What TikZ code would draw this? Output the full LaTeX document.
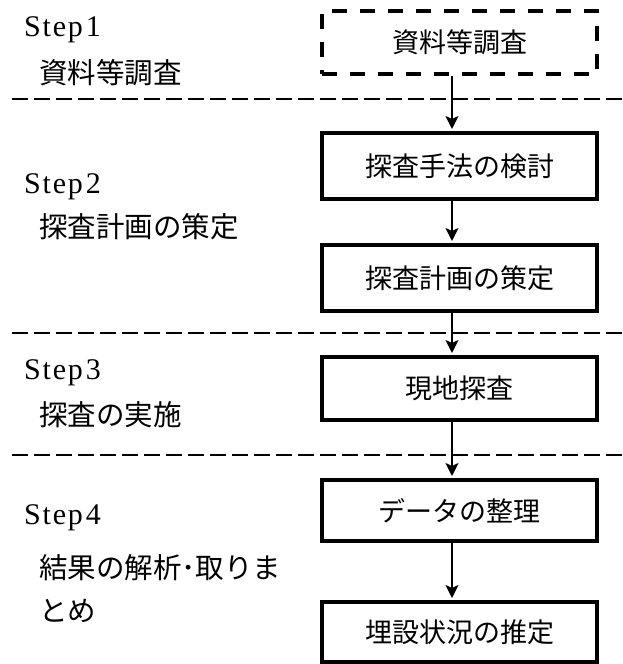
\documentclass[tikz,border=0pt]{standalone}
\usepackage{fontspec}
\usetikzlibrary{arrows.meta}
\newfontfamily\jpfont{Noto Sans CJK JP}
\newfontfamily\stepfamily[LetterSpace=6]{Liberation Serif}
\newcommand\myBoxFont{\jpfont\fontsize{27pt}{27pt}\selectfont}
\newcommand\myLblFont{\jpfont\fontsize{28.5pt}{28.5pt}\selectfont}
\newcommand\myStepFont{\stepfamily\fontsize{30pt}{30pt}\selectfont}
\begin{document}
\begin{tikzpicture}[x=1pt,y=-1pt,
  box/.style={draw,line width=4pt,minimum width=275pt,inner sep=0pt,font=\myBoxFont},
  dbox/.style={box,dash pattern=on 15pt off 13pt},
  sepline/.style={line width=2pt,dash pattern=on 16pt off 6pt},
  arr/.style={line width=2pt,-{Stealth[length=13pt,width=13pt,inset=3pt]},shorten >=2pt},
  steplbl/.style={anchor=base west,inner sep=0pt,font=\myStepFont},
  jplbl/.style={anchor=west,inner sep=0pt,font=\myLblFont}]
\useasboundingbox (0,0) rectangle (622,664);
% separators
\draw[sepline] (12,99) -- (622,99);
\draw[sepline] (12,333) -- (622,333);
\draw[sepline] (12,455) -- (622,455);
% boxes
\node[dbox,minimum height=63pt] (b1) at (459.5,42.5) {資料等調査};
\node[box,minimum height=66pt] (b2) at (459.5,166) {探査手法の検討};
\node[box,minimum height=66pt] (b3) at (459.5,278) {探査計画の策定};
\node[box,minimum height=63pt] (b4) at (459.5,388.5) {現地探査};
\node[box,minimum height=61pt] (b5) at (459.5,510.5) {データの整理};
\node[box,minimum height=60pt] (b6) at (459.5,632) {埋設状況の推定};
% arrows
\coordinate (ax) at (452,0);
\draw[arr] (b1.south -| ax) -- (b2.north -| ax);
\draw[arr] (b2.south -| ax) -- (b3.north -| ax);
\draw[arr] (b3.south -| ax) -- (b4.north -| ax);
\draw[arr] (b4.south -| ax) -- (b5.north -| ax);
\draw[arr] (b5.south -| ax) -- (b6.north -| ax);
% left labels
\node[steplbl] (s1) at (24,36) {Step\hspace{3pt}1};
\node[jplbl] (l1) at (39,73) {資料等調査};
\node[steplbl] (s2) at (24,193) {Step\hspace{3pt}2};
\node[jplbl] (l2) at (39,227) {探査計画の策定};
\node[steplbl] (s3) at (24,379) {Step\hspace{3pt}3};
\node[jplbl] (l3) at (39,415) {探査の実施};
\node[steplbl] (s4) at (24,524) {Step\hspace{3pt}4};
\node[jplbl] (l4a) at (39,568) {結果の解析･取りま};
\node[jplbl] (l4b) at (39,611) {とめ};
\end{tikzpicture}
\end{document}
